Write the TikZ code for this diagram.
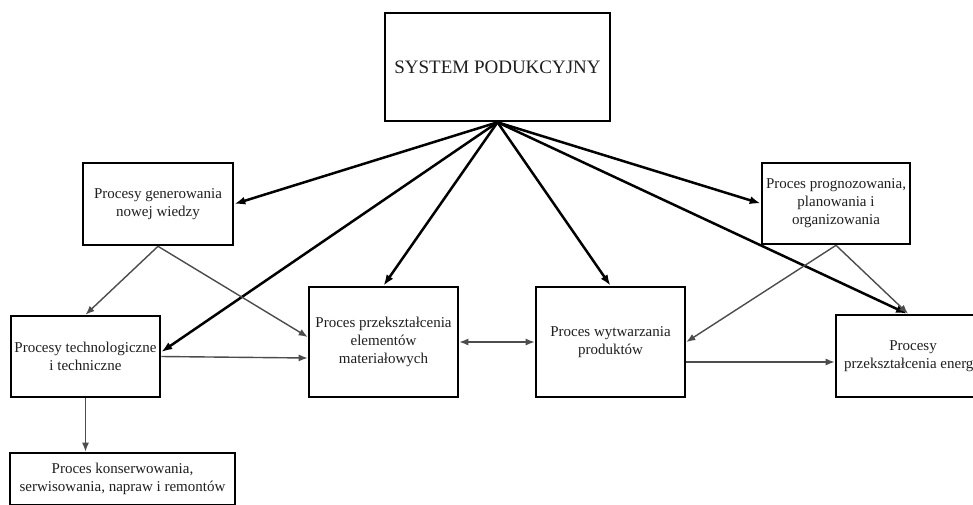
\documentclass[tikz,border=0pt]{standalone}
\usepackage{fontspec}
\setmainfont{Liberation Serif}
\usetikzlibrary{arrows.meta,calc}
\tikzset{
  box/.style={draw=black, line width=2.6pt, fill=white, rectangle, align=center, inner sep=0pt,
    text=black!88, font=\fontsize{15}{18}\selectfont},
  thick arrow/.style={draw=black, line width=2.5pt, -{Latex[length=11pt,width=8pt]}},
  thin arrow/.style={draw=black!70, line width=1.4pt, -{Latex[length=9pt,width=7pt]}},
  both arrow/.style={draw=black!70, line width=1.4pt, {Latex[length=9pt,width=7pt]}-{Latex[length=9pt,width=7pt]}}
}
\begin{document}
\begin{tikzpicture}[x=1pt,y=-1pt]
\useasboundingbox (0,0) rectangle (973,504);
\clip (0,0) rectangle (973,504);
\fill[white] (0,0) rectangle (973,504);

\node[box, minimum width=225pt, minimum height=108pt, font=\fontsize{19}{22}\selectfont] (sys) at (497.5,67) {SYSTEM PODUKCYJNY};
\node[box, minimum width=150pt, minimum height=82pt] (gen) at (158,204) {Procesy generowania\\nowej wiedzy};
\node[box, minimum width=149pt, minimum height=81pt] (tech) at (85.5,356.5) {Procesy technologiczne\\i techniczne};
\node[box, minimum width=225pt, minimum height=52pt] (kons) at (122.5,479) {Proces konserwowania,\\serwisowania, napraw i remontów};
\node[box, minimum width=149pt, minimum height=110pt] (prz) at (383.5,342) {Proces przekształcenia\\elementów\\materiałowych};
\node[box, minimum width=149pt, minimum height=110pt] (wyt) at (610.5,342) {Proces wytwarzania\\produktów};
\node[box, minimum width=148pt, minimum height=81pt] (prog) at (836,203.5) {Proces prognozowania,\\planowania i\\organizowania};
\node[box, minimum width=154pt, minimum height=82pt] (ene) at (913,356) {Procesy\\przekształcenia energii};

% thick arrows from the system
\draw[thick arrow] (sys.south) -- (gen.east);
\draw[thick arrow] (sys.south) -- ([yshift=4.5pt]tech.east);
\draw[thick arrow] (sys.south) -- (prz.north);
\draw[thick arrow] (sys.south) -- (wyt.north);
\draw[thick arrow] (sys.south) -- (prog.west);
\draw[thick arrow] (sys.south) -- ([xshift=-6pt]ene.north);

% thin arrows
\draw[thin arrow] (gen.south) -- (tech.north);
\draw[thin arrow] (gen.south) -- ([yshift=5pt]prz.west);
\draw[thin arrow] (tech.east) -- ([yshift=-16pt]prz.west);
\draw[thin arrow] (tech.south) -- (tech.south |- kons.north);
\draw[both arrow] (prz.east) -- (wyt.west);
\draw[thin arrow] (prog.south) -- (wyt.east);
\draw[thin arrow] (prog.south) -- ([xshift=-5pt]ene.north);
\draw[thin arrow] ([yshift=-20pt]wyt.east) -- ([yshift=-20pt]wyt.east -| ene.west);
\end{tikzpicture}
\end{document}
